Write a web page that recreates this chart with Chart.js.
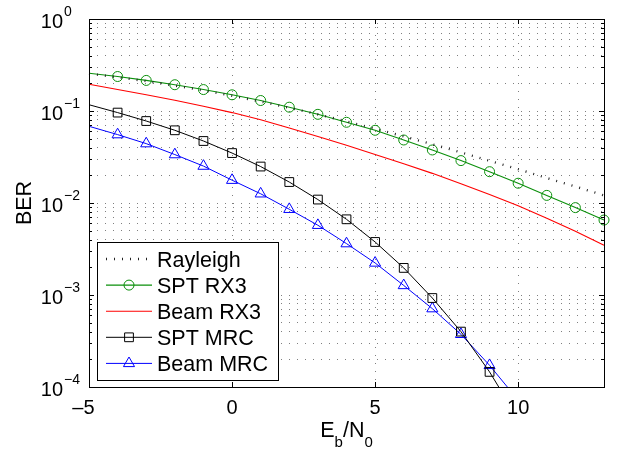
<!DOCTYPE html>
<html>
<head>
<meta charset="utf-8">
<script src="https://cdn.jsdelivr.net/npm/chart.js@4/dist/chart.umd.min.js"></script>
<style>
  html, body { margin: 0; padding: 0; background: #fff; }
  canvas { display: block; }
</style>
</head>
<body>
<canvas id="berChart" width="621" height="452"></canvas>
<script>
// Eb/N0 in dB
const ebn0 = [-5, -4, -3, -2, -1, 0, 1, 2, 3, 4, 5, 6, 7, 8, 9, 10, 11, 12, 13];

// BER curves
const rayleigh = [0.2549, 0.2332, 0.2111, 0.1890, 0.1673, 0.1464, 0.1267, 0.1085, 0.0919, 0.0771,
                  0.0642, 0.0530, 0.0435, 0.0355, 0.0288, 0.0233, 0.0187, 0.0151, 0.0121];
const sptRx3 = [0.257, 0.237, 0.215, 0.193, 0.171, 0.150, 0.130, 0.110, 0.092, 0.0754,
                0.0617, 0.0484, 0.0377, 0.0289, 0.0219, 0.0164, 0.0121, 0.00891, 0.00653];
const beamRx3 = [0.195, 0.171, 0.150, 0.131, 0.1125, 0.0961, 0.0802, 0.0654, 0.0527, 0.0424,
                 0.0336, 0.0267, 0.0210, 0.0162, 0.0124, 0.00933, 0.00682, 0.00492, 0.00347];
const sptMrc = [0.117, 0.0961, 0.0778, 0.0617, 0.0472, 0.0349, 0.0249, 0.0169, 0.0109, 0.00665,
                0.00377, 0.00197, 0.000927, 0.000400, 0.000146, 0.000045];
const beamMrc = [0.0682, 0.0554, 0.0442, 0.0336, 0.0252, 0.0177, 0.0126, 0.00855, 0.00573, 0.00362,
                 0.00223, 0.00127, 0.000711, 0.000374, 0.000172, 0.000072];

// Axis ticks
const xTicks = [-5, 0, 5, 10];
const yDecades = [1e-4, 1e-3, 1e-2, 1e-1, 1];
const yExponents = ['\u22124', '\u22123', '\u22122', '\u22121', '0'];

const FONT = '"Liberation Sans", Arial, Helvetica, sans-serif';

// minor log ticks 2..9 in each decade
const yMinor = [];
yDecades.slice(0, -1).forEach(d => {
    for (let m = 2; m <= 9; m++) yMinor.push(d * m);
});

function toPoints(values) {
    return values.map((v, i) => ({ x: ebn0[i], y: v }));
}

// hide the marker at -5 dB and anything that falls below the axis
function markerSizes(values, r) {
    return values.map((v, i) => (i === 0 || v < 1e-4) ? 0 : r);
}

const datasets = [
    {
        label: 'Rayleigh',
        data: toPoints(rayleigh),
        borderColor: '#222',
        borderWidth: 2.4,
        borderDash: [1, 7],
        pointRadius: 0
    },
    {
        label: 'SPT RX3',
        data: toPoints(sptRx3),
        borderColor: '#0a8f0a',
        borderWidth: 1.1,
        pointStyle: 'circle',
        pointRadius: markerSizes(sptRx3, 5)
    },
    {
        label: 'Beam RX3',
        data: toPoints(beamRx3),
        borderColor: '#ff0000',
        borderWidth: 1.1,
        pointRadius: 0
    },
    {
        label: 'SPT MRC',
        data: toPoints(sptMrc),
        borderColor: '#000',
        borderWidth: 1,
        pointStyle: 'rect',
        pointRadius: markerSizes(sptMrc, 6.2)
    },
    {
        label: 'Beam MRC',
        data: toPoints(beamMrc),
        borderColor: '#0000ff',
        borderWidth: 1,
        pointStyle: 'triangle',
        pointRadius: markerSizes(beamMrc, 6.4)
    }
];

datasets.forEach(ds => {
    ds.pointBorderColor = ds.borderColor;
    ds.pointBackgroundColor = 'rgba(0,0,0,0)';
    ds.pointBorderWidth = 1;
    ds.pointHoverRadius = 0;
    ds.fill = false;
    ds.tension = 0;
    ds.clip = { left: 8, top: 0, right: 8, bottom: 0 };
});

// Draws frame, inward ticks, tick labels, axis titles and legend like the original figure
const figurePlugin = {
    id: 'figure',
    afterDraw(chart) {
        const ctx = chart.ctx;
        const area = chart.chartArea;
        const xs = chart.scales.x;
        const ys = chart.scales.y;

        ctx.save();
        ctx.strokeStyle = '#000';
        ctx.lineWidth = 1;
        ctx.setLineDash([]);

        // box
        ctx.strokeRect(Math.round(area.left) + 0.5, Math.round(area.top) + 0.5,
            Math.round(area.right - area.left), Math.round(area.bottom - area.top));

        // x ticks, top and bottom
        ctx.beginPath();
        xTicks.forEach(v => {
            const px = Math.round(xs.getPixelForValue(v)) + 0.5;
            ctx.moveTo(px, area.bottom); ctx.lineTo(px, area.bottom - 5);
            ctx.moveTo(px, area.top); ctx.lineTo(px, area.top + 5);
        });
        // y ticks, left and right
        yDecades.forEach(v => {
            const py = Math.round(ys.getPixelForValue(v)) + 0.5;
            ctx.moveTo(area.left, py); ctx.lineTo(area.left + 5, py);
            ctx.moveTo(area.right, py); ctx.lineTo(area.right - 5, py);
        });
        yMinor.forEach(v => {
            const py = Math.round(ys.getPixelForValue(v)) + 0.5;
            ctx.moveTo(area.left, py); ctx.lineTo(area.left + 3, py);
            ctx.moveTo(area.right, py); ctx.lineTo(area.right - 3, py);
        });
        ctx.stroke();

        ctx.fillStyle = '#000';

        // x tick labels: digits centred on the tick, minus hanging left
        ctx.font = '20px ' + FONT;
        ctx.textBaseline = 'alphabetic';
        xTicks.forEach(v => {
            const px = xs.getPixelForValue(v);
            const digits = String(Math.abs(v));
            ctx.textAlign = 'center';
            ctx.fillText(digits, px, area.bottom + 27);
            if (v < 0) {
                const w = ctx.measureText(digits).width;
                ctx.textAlign = 'right';
                ctx.fillText('\u2013', px - w / 2, area.bottom + 27);
            }
        });

        // y tick labels 10^k
        yDecades.forEach((v, i) => {
            const py = ys.getPixelForValue(v);
            ctx.font = '20px ' + FONT;
            ctx.textAlign = 'right';
            ctx.fillText('10', 63, py + 8.5);
            ctx.font = '14px ' + FONT;
            ctx.textAlign = 'left';
            ctx.fillText(yExponents[i], 64, py - 3.5);
        });

        // x axis title E_b/N_0
        const parts = [
            { t: 'E', sub: false }, { t: 'b', sub: true },
            { t: '/N', sub: false }, { t: '0', sub: true }
        ];
        let total = 0;
        parts.forEach(p => {
            ctx.font = (p.sub ? '15px ' : '21.5px ') + FONT;
            p.w = ctx.measureText(p.t).width;
            total += p.w;
        });
        let cx = (area.left + area.right) / 2 - total / 2;
        ctx.textAlign = 'left';
        parts.forEach(p => {
            ctx.font = (p.sub ? '15px ' : '21.5px ') + FONT;
            ctx.fillText(p.t, cx, p.sub ? 446.5 : 436.5);
            cx += p.w;
        });

        // y axis title
        ctx.save();
        ctx.translate(31, (area.top + area.bottom) / 2);
        ctx.rotate(-Math.PI / 2);
        ctx.font = '21.5px ' + FONT;
        ctx.textAlign = 'center';
        ctx.fillText('BER', 0, 0);
        ctx.restore();

        // legend
        const box = { x: 97, y: 242, w: 181, h: 138 };
        ctx.fillStyle = '#fff';
        ctx.fillRect(box.x, box.y, box.w, box.h);
        ctx.strokeStyle = '#000';
        ctx.strokeRect(box.x + 0.5, box.y + 0.5, box.w, box.h);

        chart.data.datasets.forEach((ds, i) => {
            const rowY = 259 + i * 26.1;
            ctx.save();
            ctx.strokeStyle = ds.borderColor;
            ctx.lineWidth = ds.borderWidth;
            ctx.setLineDash(ds.borderDash || []);
            ctx.beginPath();
            ctx.moveTo(106, rowY);
            ctx.lineTo(152, rowY);
            ctx.stroke();
            ctx.setLineDash([]);
            if (ds.pointStyle) {
                const r = Math.max.apply(null, ds.pointRadius);
                ctx.lineWidth = 1;
                ctx.fillStyle = 'rgba(0,0,0,0)';
                Chart.helpers.drawPoint(ctx, {
                    pointStyle: ds.pointStyle, radius: r, rotation: 0, borderWidth: 1
                }, 129, rowY);
            }
            ctx.restore();
            ctx.fillStyle = '#000';
            ctx.font = '21.5px ' + FONT;
            ctx.textAlign = 'left';
            ctx.fillText(ds.label, 157, rowY + 7.5);
        });

        ctx.restore();
    }
};

const gridColor = 'rgba(0,0,0,0.5)';

new Chart(document.getElementById('berChart'), {
    type: 'line',
    data: { datasets: datasets },
    options: {
        responsive: false,
        animation: false,
        events: [],
        layout: { padding: { left: 89, right: 17, top: 19, bottom: 65 } },
        plugins: {
            legend: { display: false },
            tooltip: { enabled: false }
        },
        scales: {
            x: {
                type: 'linear',
                min: -5,
                max: 13,
                afterBuildTicks: scale => {
                    scale.ticks = xTicks.map(v => ({ value: v }));
                },
                afterFit: scale => { scale.height = 0; },
                ticks: { display: false },
                grid: { color: gridColor, lineWidth: 1, drawTicks: false },
                border: { display: false, dash: [1, 7] }
            },
            y: {
                type: 'logarithmic',
                min: 1e-4,
                max: 1,
                afterBuildTicks: scale => {
                    scale.ticks = yDecades.concat(yMinor).map(v => ({ value: v }));
                },
                afterFit: scale => { scale.width = 0; },
                ticks: { display: false },
                grid: { color: gridColor, lineWidth: 1, drawTicks: false },
                border: { display: false, dash: [1, 7] }
            }
        }
    },
    plugins: [figurePlugin]
});
</script>
</body>
</html>
